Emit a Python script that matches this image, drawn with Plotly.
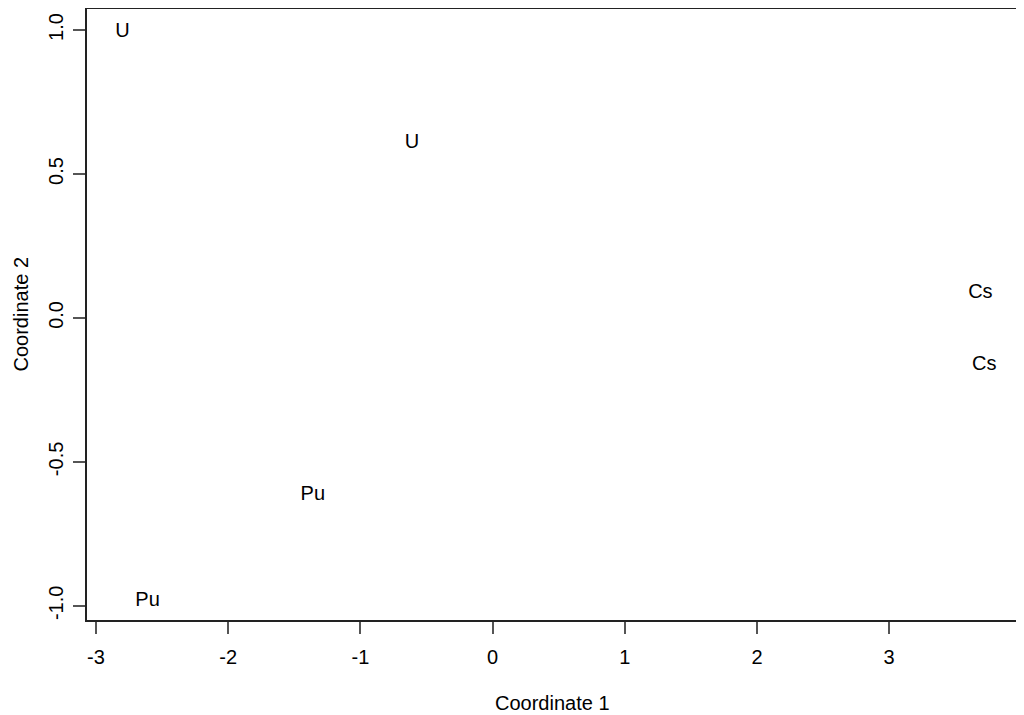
import plotly.graph_objects as go

# MDS coordinates
labels = ['U', 'U', 'Cs', 'Cs', 'Pu', 'Pu']
coord1 = [-2.80, -0.61, 3.69, 3.72, -1.36, -2.61]
coord2 = [0.993, 0.607, 0.087, -0.163, -0.615, -0.983]

x_ticks = [-3, -2, -1, 0, 1, 2, 3]
x_ticktext = ['-3', '-2', '-1', '0', '1', '2', '3']
y_ticks = [-1.0, -0.5, 0.0, 0.5, 1.0]
y_ticktext = ['-1.0', '-0.5', '0.0', '0.5', '1.0']

font = dict(family='Liberation Sans, Arial', color='black')

fig = go.Figure()
fig.add_trace(go.Scatter(x=coord1, y=coord2, text=labels, mode='text',
                         textposition='middle center',
                         textfont=dict(size=20, **font),
                         showlegend=False, hoverinfo='skip'))

axis_common = dict(showgrid=False, zeroline=False, showline=True, mirror=True,
                   automargin=False,
                   linecolor='#222222', linewidth=2, ticks='outside', ticklen=12,
                   tickwidth=2, tickcolor='#555555',
                   tickfont=dict(size=20, **font))

# page body has an 8px margin, so the figure is sized/offset for that
fig.update_layout(
    width=1016, height=707,
    margin=dict(l=79, r=7, t=1, b=95),
    plot_bgcolor='white', paper_bgcolor='white',
    font=font,
    xaxis=dict(range=[-3.068, 3.967], tickvals=x_ticks, ticktext=x_ticktext,
               ticklabelstandoff=6, **axis_common),
    yaxis=dict(range=[-1.049, 1.073], tickvals=y_ticks, ticktext=y_ticktext,
               tickangle=-90, ticklabelstandoff=2, **axis_common),
    annotations=[
        dict(text='Coordinate 1', xref='paper', yref='paper', x=0.5, y=0,
             yanchor='middle', xanchor='center',
             yshift=-83, showarrow=False, font=dict(size=20, **font)),
        dict(text='Coordinate 2', xref='paper', yref='paper', x=0, y=0.5,
             yanchor='middle', xanchor='center',
             xshift=-67, textangle=-90, showarrow=False, font=dict(size=20, **font)),
    ],
)

fig.write_html("out.html")
